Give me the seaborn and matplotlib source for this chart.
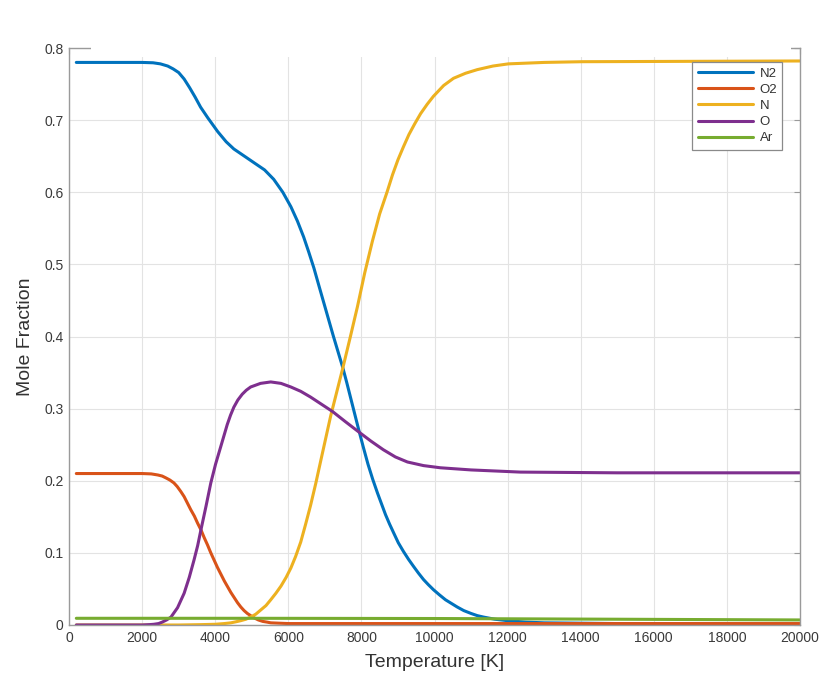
import numpy as np
import pandas as pd
import matplotlib
matplotlib.use("Agg")
import matplotlib.pyplot as plt
import seaborn as sns
from matplotlib.patches import Rectangle
from matplotlib.lines import Line2D

# ---------------- data ----------------
species = ["N2", "O2", "N", "O", "Ar"]

T_N2 = [200, 2000, 2300, 2500, 2700, 2850, 3000, 3150, 3300, 3450, 3600, 3800,
        4070, 4300, 4510, 4800, 5060, 5350, 5600, 5850, 6070, 6250, 6420, 6560,
        6700, 6840, 6970, 7100, 7230, 7360, 7490, 7600, 7700, 7810, 7920, 8050,
        8180, 8310, 8440, 8550, 8660, 8770, 8880, 9010, 9150, 9290, 9430, 9560,
        9700, 9830, 9970, 10130, 10300, 10460, 10620, 10800, 11000, 11170, 11340,
        11650, 12000, 12500, 13000, 15000, 20000]
X_N2 = [0.780, 0.780, 0.7795, 0.778, 0.775, 0.771, 0.766, 0.757, 0.745, 0.732,
        0.718, 0.703, 0.684, 0.670, 0.660, 0.650, 0.641, 0.631, 0.618, 0.600,
        0.580, 0.560, 0.538, 0.517, 0.495, 0.470, 0.447, 0.424, 0.401, 0.379,
        0.357, 0.336, 0.316, 0.294, 0.272, 0.247, 0.223, 0.202, 0.183, 0.168,
        0.153, 0.140, 0.128, 0.114, 0.102, 0.091, 0.081, 0.072, 0.063, 0.056,
        0.049, 0.042, 0.035, 0.030, 0.025, 0.020, 0.016, 0.013, 0.011, 0.008,
        0.006, 0.004, 0.003, 0.002, 0.001]

T_O2 = [200, 2000, 2250, 2430, 2550, 2650, 2760, 2870, 2960, 3060, 3150, 3240,
        3330, 3430, 3520, 3610, 3700, 3790, 3880, 3970, 4060, 4160, 4250, 4340,
        4430, 4520, 4610, 4700, 4790, 4880, 4970, 5060, 5180, 5300, 5420, 5520,
        5750, 6000, 7000, 20000]
X_O2 = [0.210, 0.210, 0.2095, 0.208, 0.2065, 0.204, 0.201, 0.197, 0.192, 0.185,
        0.178, 0.169, 0.160, 0.151, 0.141, 0.132, 0.121, 0.111, 0.100, 0.090,
        0.080, 0.070, 0.061, 0.053, 0.045, 0.038, 0.031, 0.025, 0.020, 0.016,
        0.013, 0.010, 0.007, 0.005, 0.004, 0.003, 0.0025, 0.002, 0.002, 0.002]

T_N = [200, 3000, 3600, 4000, 4250, 4430, 4570, 4700, 4840, 4970, 5110, 5250,
       5390, 5520, 5660, 5800, 5940, 6070, 6200, 6340, 6470, 6610, 6750, 6880,
       7020, 7160, 7320, 7490, 7690, 7890, 8090, 8300, 8500, 8700, 8850, 9000,
       9150, 9300, 9460, 9620, 9800, 9970, 10250, 10520, 10850, 11170, 11600,
       12020, 13000, 14040, 17000, 20000]
X_N = [0.0, 0.0, 0.0005, 0.001, 0.002, 0.003, 0.0045, 0.006, 0.008, 0.011,
       0.015, 0.021, 0.027, 0.035, 0.044, 0.054, 0.066, 0.079, 0.095, 0.115,
       0.139, 0.166, 0.196, 0.226, 0.258, 0.290, 0.322, 0.356, 0.398, 0.441,
       0.488, 0.532, 0.570, 0.600, 0.624, 0.645, 0.663, 0.680, 0.695, 0.709,
       0.722, 0.733, 0.748, 0.758, 0.765, 0.770, 0.775, 0.778, 0.780, 0.781,
       0.7815, 0.782]

T_O = [200, 2000, 2200, 2320, 2450, 2550, 2670, 2790, 2970, 3150, 3290, 3420,
       3520, 3610, 3750, 3880, 4010, 4150, 4330, 4420, 4510, 4620, 4740, 4850,
       4970, 5240, 5520, 5800, 6070, 6340, 6610, 6910, 7210, 7560, 7920, 8260,
       8600, 8930, 9260, 9700, 10160, 11000, 12350, 15000, 20000]
X_O = [0.0, 0.0, 0.0005, 0.001, 0.002, 0.004, 0.007, 0.011, 0.024, 0.044, 0.066,
       0.090, 0.110, 0.132, 0.165, 0.197, 0.223, 0.247, 0.278, 0.291, 0.302,
       0.312, 0.320, 0.3255, 0.330, 0.335, 0.337, 0.335, 0.330, 0.324, 0.316,
       0.306, 0.296, 0.282, 0.268, 0.255, 0.243, 0.233, 0.226, 0.221, 0.218,
       0.215, 0.212, 0.211, 0.211]

T_Ar = [200, 5000, 10000, 15000, 20000]
X_Ar = [0.0093, 0.0093, 0.0090, 0.0080, 0.0070]

colors = ["#0072BD", "#D95319", "#EDB120", "#7E2F8E", "#77AC30"]

x_ticks = [0, 2000, 4000, 6000, 8000, 10000, 12000, 14000, 16000, 18000, 20000]
y_ticks = [0, 0.1, 0.2, 0.3, 0.4, 0.5, 0.6, 0.7, 0.8]
y_tick_labels = ["0", "0.1", "0.2", "0.3", "0.4", "0.5", "0.6", "0.7", "0.8"]

# ---------------- build table ----------------
frames = []
for name, T, X in zip(species, [T_N2, T_O2, T_N, T_O, T_Ar],
                      [X_N2, X_O2, X_N, X_O, X_Ar]):
    frames.append(pd.DataFrame({"Temperature": T, "Fraction": X, "Species": name}))
df = pd.concat(frames, ignore_index=True)

# ---------------- plot ----------------
sns.set_theme(style="whitegrid")
plt.rcParams["font.family"] = ["Liberation Sans", "DejaVu Sans"]

fig = plt.figure(figsize=(8.25, 6.77), dpi=100)
ax = fig.add_axes([69 / 825, 52 / 677, 731 / 825, 577 / 677])

sns.lineplot(data=df, x="Temperature", y="Fraction", hue="Species",
             hue_order=species, palette=dict(zip(species, colors)),
             estimator=None, linewidth=2.2, ax=ax, legend=False)
for ln in ax.get_lines():
    ln.set_solid_joinstyle("round")
    ln.set_solid_capstyle("round")

ax.set_xlim(0, 20000)
ax.set_ylim(0, 0.8)
ax.set_xticks(x_ticks)
ax.set_xticklabels([str(t) for t in x_ticks])
ax.set_yticks(y_ticks)
ax.set_yticklabels(y_tick_labels)

ax.set_facecolor("white")
ax.grid(True, color="#e3e3e3", linewidth=0.8)
for s in ax.spines.values():
    s.set_visible(True)
    s.set_color("#9a9a9a")
    s.set_linewidth(1.0)

ax.tick_params(axis="both", direction="in", length=4, width=0.8,
               color="#9a9a9a", labelsize=10, labelcolor="#3a3a3a", pad=4)
ax.tick_params(top=True, right=True, labeltop=False, labelright=False)

ax.set_xlabel("Temperature [K]", fontsize=14, color="#333333", labelpad=7)
ax.set_ylabel("Mole Fraction", fontsize=14, color="#333333", labelpad=7)

handles = [Line2D([0], [0], color=c, lw=2.2) for c in colors]
leg = ax.legend(handles, species, loc="upper right",
                bbox_to_anchor=(0.985, 0.987), fontsize=9.5,
                handlelength=4.2, handletextpad=0.5, labelspacing=0.3,
                borderpad=0.4, fancybox=False, framealpha=1,
                edgecolor="#8a8a8a")
leg.get_frame().set_linewidth(0.9)
for t in leg.get_texts():
    t.set_color("#333333")

# white occluding panel over the top of the figure, as in the reference
fig.patches.append(Rectangle((91 / 825, 1 - 57 / 677), 700 / 825, 47 / 677,
                             transform=fig.transFigure, facecolor="white",
                             edgecolor="none", zorder=10))

fig.savefig("out.png", dpi=100, facecolor="white")
